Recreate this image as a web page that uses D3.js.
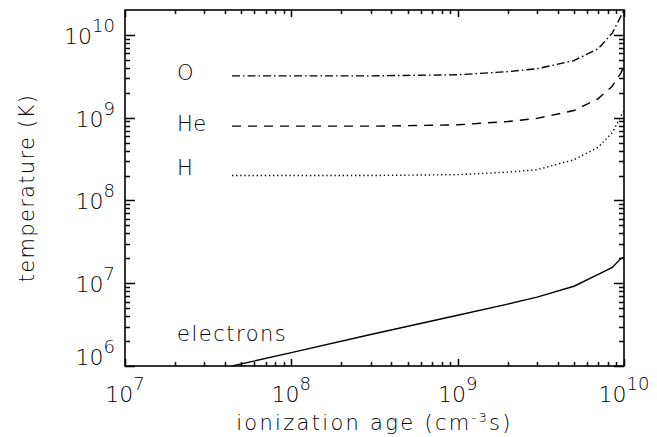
<!DOCTYPE html>
<html lang="en">
<head>
    <meta charset="UTF-8">
    <script src="https://d3js.org/d3.v7.min.js"></script>
    <style>
        body {
            margin: 0;
            background-color: #ffffff;
            overflow: hidden;
        }
        svg text {
            font-family: 'DejaVu Sans', sans-serif;
            font-weight: 200;
            fill: #000;
        }
    </style>
</head>
<body>
    <svg id="chart" width="657" height="437"></svg>

    <script>
        // ionization age (cm^-3 s)
        const ages = [4.4e7, 1e8, 3e8, 1e9, 2e9, 3e9, 5e9, 7e9, 8.5e9, 9.6e9, 1e10];
        // temperatures (K)
        const tempO = [3.2e9, 3.2e9, 3.2e9, 3.3e9, 3.6e9, 3.9e9, 4.9e9, 6.8e9, 1.05e10, 1.7e10, 2.0e10];
        const tempHe = [7.9e8, 7.9e8, 7.9e8, 8.2e8, 9.0e8, 9.8e8, 1.22e9, 1.7e9, 2.4e9, 3.5e9, 4.2e9];
        const tempH = [2.0e8, 2.0e8, 2.0e8, 2.05e8, 2.2e8, 2.35e8, 3.1e8, 4.4e8, 6.6e8, 1.05e9, 1.2e9];
        const tempE = [1.0e6, 1.45e6, 2.4e6, 4.1e6, 5.6e6, 6.8e6, 9.2e6, 1.28e7, 1.55e7, 2.0e7, 2.05e7];

        const xTickValues = [1e7, 1e8, 1e9, 1e10];
        const xTickExps = ["7", "8", "9", "10"];
        const yTickValues = [1e6, 1e7, 1e8, 1e9, 1e10];
        const yTickExps = ["6", "7", "8", "9", "10"];

        const seriesNames = ["O", "He", "H", "electrons"];

        const svg = d3.select("#chart");

        const mLeft = 125, mRight = 624, mTop = 10, mBottom = 366;

        const x = d3.scaleLog().domain([1e7, 1e10]).range([mLeft, mRight]);
        const y = d3.scaleLog().domain([1e6, 2e10]).range([mBottom, mTop]);

        // clip for curves
        svg.append("defs").append("clipPath").attr("id", "plot-clip")
            .append("rect")
            .attr("x", mLeft).attr("y", mTop)
            .attr("width", mRight - mLeft).attr("height", mBottom - mTop);

        // minor tick values
        function minorTicks(lo, hi) {
            const out = [];
            for (let d = Math.floor(Math.log10(lo)); d <= Math.ceil(Math.log10(hi)); d++) {
                for (let m = 2; m <= 9; m++) {
                    const v = m * Math.pow(10, d);
                    if (v > lo && v < hi) out.push(v);
                }
            }
            return out;
        }
        const xMinor = minorTicks(1e7, 1e10);
        const yMinor = minorTicks(1e6, 2e10);

        // tick labels with superscript exponents
        function powerLabel(g, exp) {
            g.append("tspan").attr("font-size", 22).text("10");
            g.append("tspan").attr("font-size", 18).attr("dy", -12).text(exp);
        }

        xTickValues.forEach((v, i) => {
            const t = svg.append("text")
                .attr("x", x(v))
                .attr("y", 402)
                .attr("text-anchor", "middle");
            powerLabel(t, xTickExps[i]);
        });

        yTickValues.forEach((v, i) => {
            const py = Math.min(y(v), mBottom - 10);
            const t = svg.append("text")
                .attr("x", mLeft - 10)
                .attr("y", py + 9)
                .attr("text-anchor", "end");
            powerLabel(t, yTickExps[i]);
        });

        // axis titles
        const xt = svg.append("text")
            .attr("x", (mLeft + mRight) / 2)
            .attr("y", 430)
            .attr("text-anchor", "middle")
            .attr("font-size", 21)
            .attr("letter-spacing", 2.3);
        xt.append("tspan").text("ionization age (cm");
        xt.append("tspan").attr("font-size", 13).attr("dy", -8).text("-3");
        xt.append("tspan").attr("dy", 8).text("s)");

        svg.append("text")
            .attr("transform", `translate(34, ${(mTop + mBottom) / 2}) rotate(-90)`)
            .attr("text-anchor", "middle")
            .attr("font-size", 21)
            .attr("letter-spacing", 1.3)
            .text("temperature (K)");

        // curves
        const line = d3.line()
            .x(d => x(d[0]))
            .y(d => y(d[1]));

        const curves = [
            { values: tempO, dash: "8,3,1.5,3" },
            { values: tempHe, dash: "9,7" },
            { values: tempH, dash: "1.3,2.8" },
            { values: tempE, dash: null }
        ];

        const plot = svg.append("g").attr("clip-path", "url(#plot-clip)");
        curves.forEach(c => {
            plot.append("path")
                .datum(ages.map((a, i) => [a, c.values[i]]))
                .attr("d", line)
                .style("fill", "none")
                .style("stroke", "#000")
                .style("stroke-width", "1.4px")
                .style("stroke-dasharray", c.dash);
        });

        // series labels
        const labelPos = [[177, 80], [177, 131], [177, 175], [177, 341]];
        seriesNames.forEach((name, i) => {
            svg.append("text")
                .attr("x", labelPos[i][0])
                .attr("y", labelPos[i][1])
                .attr("font-size", 21)
                .attr("letter-spacing", i === 3 ? 1.5 : 0.5)
                .text(name);
        });

        // frame
        svg.append("rect")
            .attr("x", mLeft).attr("y", mTop)
            .attr("width", mRight - mLeft).attr("height", mBottom - mTop)
            .style("fill", "none")
            .style("stroke", "#000")
            .style("stroke-width", "1.6px");

        // tick marks on all four sides, pointing inward, drawn last
        let td = "";
        function addX(values, len) {
            values.forEach(v => {
                const px = Math.round(x(v)) + 0.5;
                td += `M${px},${mBottom}V${mBottom - len}M${px},${mTop}V${mTop + len}`;
            });
        }
        function addY(values, len) {
            values.forEach(v => {
                const py = Math.round(y(v)) + 0.5;
                td += `M${mLeft},${py}H${mLeft + len}M${mRight},${py}H${mRight - len}`;
            });
        }
        addX(xTickValues, 7);
        addX(xMinor, 4);
        addY(yTickValues, 10);
        addY(yMinor, 5);

        svg.append("path")
            .attr("d", td)
            .attr("fill", "none")
            .attr("stroke", "#000")
            .attr("stroke-width", 1.5);
    </script>
</body>
</html>
